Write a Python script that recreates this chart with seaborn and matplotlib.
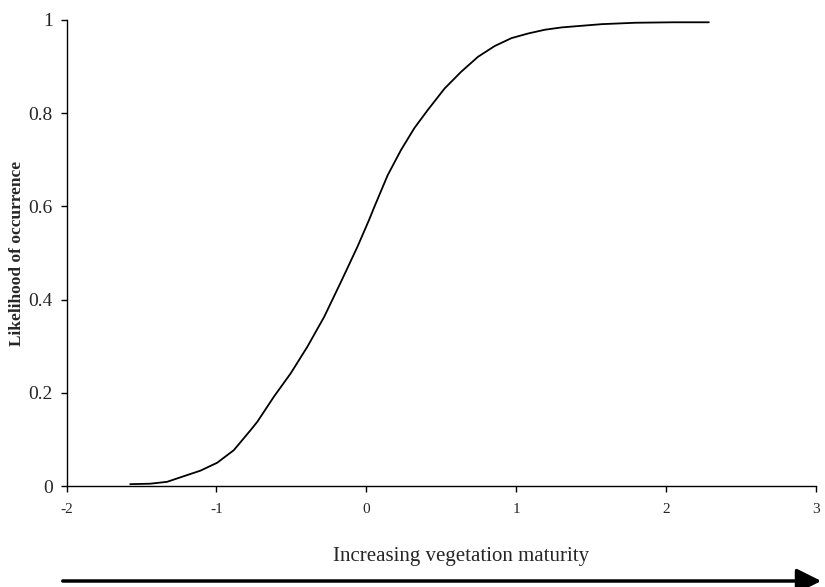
import matplotlib
matplotlib.use("Agg")
import matplotlib.pyplot as plt
import seaborn as sns
import pandas as pd

# Fitted likelihood curve along the vegetation maturity gradient
maturity = [-1.576, -1.442, -1.330, -1.219, -1.107, -0.995, -0.884, -0.772, -0.727,
            -0.616, -0.504, -0.393, -0.281, -0.169, -0.058, 0.020, 0.054, 0.143,
            0.232, 0.321, 0.411, 0.523, 0.634, 0.746, 0.857, 0.969, 1.081, 1.192,
            1.304, 1.572, 1.795, 2.050, 2.287]
likelihood = [0.004, 0.005, 0.009, 0.021, 0.033, 0.050, 0.077, 0.120, 0.138,
              0.192, 0.242, 0.299, 0.363, 0.438, 0.514, 0.572, 0.599, 0.667,
              0.721, 0.768, 0.807, 0.853, 0.889, 0.921, 0.944, 0.961, 0.971, 0.979,
              0.984, 0.991, 0.994, 0.995, 0.995]

x_ticks = [-2, -1, 0, 1, 2, 3]
y_ticks = [0, 0.2, 0.4, 0.6, 0.8, 1]
y_tick_labels = ["0", "0.2", "0.4", "0.6", "0.8", "1"]

sns.set_theme(style="ticks")
plt.rcParams["font.family"] = ["Liberation Serif", "DejaVu Serif"]

df = pd.DataFrame({"maturity": maturity, "likelihood": likelihood})

fig = plt.figure(figsize=(8.25, 5.87), dpi=100)
ax = fig.add_axes([0.0808, 0.172, 0.9079, 0.794])

sns.lineplot(data=df, x="maturity", y="likelihood", ax=ax, color="black",
             linewidth=1.3, sort=True, estimator=None)

ax.set_xlim(-2, 3)
ax.set_ylim(0, 1)
ax.set_xticks(x_ticks)
ax.set_xticklabels([str(t) for t in x_ticks], fontsize=11)
ax.set_yticks(y_ticks)
ax.set_yticklabels(y_tick_labels, fontsize=14)
ax.tick_params(axis="both", direction="out", length=4, width=1, color="black")
ax.tick_params(axis="x", pad=8)
ax.tick_params(axis="y", pad=6)

for side in ("top", "right"):
    ax.spines[side].set_visible(False)
for side in ("left", "bottom"):
    ax.spines[side].set_color("black")
    ax.spines[side].set_linewidth(1.0)

ax.set_xlabel("")
ax.set_ylabel("Likelihood of occurrence", fontsize=12.5, fontweight="bold")
ax.yaxis.set_label_coords(-0.055, 0.5)

# Gradient caption and arrow below the axis
fig.text(461 / 825, 1 - 556 / 587, "Increasing vegetation maturity",
         ha="center", va="center", fontsize=15)
fig.add_artist(matplotlib.patches.FancyArrowPatch(
    (60 / 825, 1 - 581 / 587), (824 / 825, 1 - 581 / 587),
    transform=fig.transFigure, arrowstyle="-|>,head_length=1.0,head_width=0.5",
    mutation_scale=15, linewidth=2.5, color="black"))

fig.savefig("out.png", dpi=100)
